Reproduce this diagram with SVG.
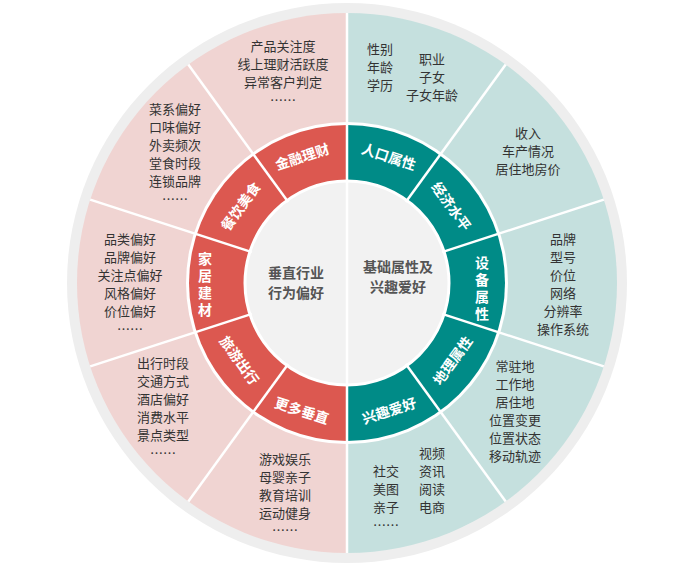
<svg xmlns="http://www.w3.org/2000/svg" width="684" height="563" viewBox="0 0 684 563">
<style>
text{font-family:"Noto Sans CJK SC","Liberation Sans",sans-serif;text-anchor:middle;dominant-baseline:central}
.o{font-size:13px;fill:#333}
.l{font-size:14px;font-weight:bold;fill:#fff}
.c{font-size:14px;font-weight:bold;fill:#555}
.sep{stroke:#fff;stroke-width:2.5}
</style>
<rect width="684" height="563" fill="#fff"/>
<circle cx="347" cy="283" r="280" fill="#eeeeee"/>
<path d="M347 13 A270 270 0 0 0 347 553 Z" fill="#f0d4d2"/>
<path d="M347 13 A270 270 0 0 1 347 553 Z" fill="#c5e0de"/>
<circle cx="347" cy="283" r="161" fill="#fff"/>
<path d="M347 125 A158 158 0 0 0 347 441 Z" fill="#dc5850"/>
<path d="M347 125 A158 158 0 0 1 347 441 Z" fill="#008b87"/>
<circle cx="347" cy="283" r="102" fill="#f2f2f2" stroke="#fff" stroke-width="3"/>
<g id="connectors">
<line class="sep" x1="347" y1="13" x2="347" y2="553"/>
<line class="sep" x1="405.8" y1="202.1" x2="505.7" y2="64.6"/>
<line class="sep" x1="442.1" y1="252.1" x2="603.8" y2="199.6"/>
<line class="sep" x1="442.1" y1="313.9" x2="603.8" y2="366.4"/>
<line class="sep" x1="405.8" y1="363.9" x2="505.7" y2="501.4"/>
<line class="sep" x1="288.2" y1="202.1" x2="188.3" y2="64.6"/>
<line class="sep" x1="251.9" y1="252.1" x2="90.2" y2="199.6"/>
<line class="sep" x1="251.9" y1="313.9" x2="90.2" y2="366.4"/>
<line class="sep" x1="288.2" y1="363.9" x2="188.3" y2="501.4"/>
</g>
<g id="center">
<text class="c" x="296" y="272">垂直行业</text><text class="c" x="296" y="292">行为偏好</text>
<text class="c" x="398" y="266">基础属性及</text><text class="c" x="398" y="286">兴趣爱好</text>
</g>
<g id="ring">
<text class="l" transform="translate(389,156) rotate(18)">人口属性</text>
<text class="l" transform="translate(452,206) rotate(54)">经济水平</text>
<g class="l"><text class="l" x="482" y="262">设</text><text class="l" x="482" y="279">备</text><text class="l" x="482" y="296">属</text><text class="l" x="482" y="313">性</text></g>
<text class="l" transform="translate(452,360) rotate(-54)">地理属性</text>
<text class="l" transform="translate(389,410) rotate(-18)">兴趣爱好</text>
<text class="l" transform="translate(302,156) rotate(-18)">金融理财</text>
<text class="l" transform="translate(240,206) rotate(-54)">餐饮美食</text>
<text class="l" x="205" y="258">家</text><text class="l" x="205" y="275">居</text><text class="l" x="205" y="292">建</text><text class="l" x="205" y="309">材</text>
<text class="l" transform="translate(240,360) rotate(54)">旅游出行</text>
<text class="l" transform="translate(302,410) rotate(18)">更多垂直</text>
</g>
<g id="outer" class="o">
<text class="o" x="283" y="45">产品关注度</text><text class="o" x="283" y="63">线上理财活跃度</text><text class="o" x="283" y="81">异常客户判定</text><text class="o" x="283" y="99">……</text>
<text class="o" x="175" y="108">菜系偏好</text><text class="o" x="175" y="126">口味偏好</text><text class="o" x="175" y="144">外卖频次</text><text class="o" x="175" y="162">堂食时段</text><text class="o" x="175" y="180">连锁品牌</text><text class="o" x="175" y="198">……</text>
<text class="o" x="130" y="238">品类偏好</text><text class="o" x="130" y="256">品牌偏好</text><text class="o" x="130" y="274">关注点偏好</text><text class="o" x="130" y="292">风格偏好</text><text class="o" x="130" y="310">价位偏好</text><text class="o" x="130" y="328">……</text>
<text class="o" x="163" y="362">出行时段</text><text class="o" x="163" y="380">交通方式</text><text class="o" x="163" y="398">酒店偏好</text><text class="o" x="163" y="416">消费水平</text><text class="o" x="163" y="434">景点类型</text><text class="o" x="163" y="452">……</text>
<text class="o" x="285" y="458">游戏娱乐</text><text class="o" x="285" y="476">母婴亲子</text><text class="o" x="285" y="494">教育培训</text><text class="o" x="285" y="512">运动健身</text><text class="o" x="285" y="529">……</text>
<text class="o" x="380" y="48">性别</text><text class="o" x="380" y="66">年龄</text><text class="o" x="380" y="84">学历</text>
<text class="o" x="432" y="58">职业</text><text class="o" x="432" y="76">子女</text><text class="o" x="432" y="94">子女年龄</text>
<text class="o" x="528" y="132">收入</text><text class="o" x="528" y="150">车产情况</text><text class="o" x="528" y="168">居住地房价</text>
<text class="o" x="563" y="238">品牌</text><text class="o" x="563" y="256">型号</text><text class="o" x="563" y="274">价位</text><text class="o" x="563" y="292">网络</text><text class="o" x="563" y="310">分辨率</text><text class="o" x="563" y="328">操作系统</text>
<text class="o" x="515" y="365">常驻地</text><text class="o" x="515" y="383">工作地</text><text class="o" x="515" y="401">居住地</text><text class="o" x="515" y="419">位置变更</text><text class="o" x="515" y="437">位置状态</text><text class="o" x="515" y="455">移动轨迹</text>
<text class="o" x="432" y="452">视频</text><text class="o" x="432" y="470">资讯</text><text class="o" x="432" y="488">阅读</text><text class="o" x="432" y="506">电商</text>
<text class="o" x="386" y="470">社交</text><text class="o" x="386" y="488">美图</text><text class="o" x="386" y="506">亲子</text><text class="o" x="386" y="524">……</text>
</g>
</svg>
